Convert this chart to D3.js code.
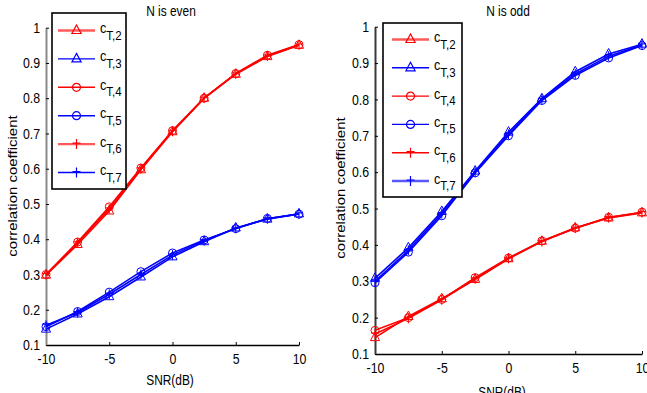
<!DOCTYPE html>
<html>
<head>
<meta charset="utf-8">
<script src="https://cdn.jsdelivr.net/npm/d3@7"></script>
<style>
  body { margin: 0; background: #fff; }
  svg { display: block; font-family: "Liberation Sans", Arial, sans-serif; }
</style>
</head>
<body>
<div id="chart"></div>
<script>
// x values (dB)
var snr = [-10, -7.5, -5, -2.5, 0, 2.5, 5, 7.5, 10];
var xTicks = [-10, -5, 0, 5, 10];
var yTicks = [0.1, 0.2, 0.3, 0.4, 0.5, 0.6, 0.7, 0.8, 0.9, 1];
var seriesNames = ["T,2", "T,3", "T,4", "T,5", "T,6", "T,7"];

// N is even
var evenT2 = [0.298, 0.385, 0.480, 0.597, 0.705, 0.800, 0.868, 0.918, 0.950];
var evenT3 = [0.145, 0.188, 0.237, 0.293, 0.350, 0.393, 0.432, 0.457, 0.472];
var evenT4 = [0.300, 0.392, 0.492, 0.602, 0.708, 0.800, 0.870, 0.922, 0.952];
var evenT5 = [0.152, 0.195, 0.250, 0.308, 0.361, 0.398, 0.430, 0.459, 0.471];
var evenT6 = [0.300, 0.390, 0.486, 0.600, 0.706, 0.800, 0.869, 0.920, 0.951];
var evenT7 = [0.156, 0.192, 0.244, 0.300, 0.355, 0.396, 0.431, 0.458, 0.472];

// N is odd
var oddT2 = [0.145, 0.203, 0.252, 0.305, 0.362, 0.410, 0.447, 0.474, 0.488];
var oddT3 = [0.308, 0.392, 0.492, 0.603, 0.710, 0.802, 0.876, 0.925, 0.952];
var oddT4 = [0.165, 0.200, 0.250, 0.310, 0.364, 0.411, 0.446, 0.476, 0.490];
var oddT5 = [0.296, 0.380, 0.480, 0.598, 0.700, 0.797, 0.866, 0.914, 0.948];
var oddT6 = [0.155, 0.198, 0.249, 0.307, 0.363, 0.409, 0.446, 0.475, 0.489];
var oddT7 = [0.300, 0.385, 0.486, 0.600, 0.704, 0.800, 0.870, 0.919, 0.950];

var styles = [
  {color: "#ff0000", marker: "tri"},
  {color: "#0000ff", marker: "tri"},
  {color: "#ff0000", marker: "circ"},
  {color: "#0000ff", marker: "circ"},
  {color: "#ff0000", marker: "plus"},
  {color: "#0000ff", marker: "plus"}
];

var SX = 0.85; // text is drawn a bit narrow in the source

var svg = d3.select("#chart").append("svg")
  .attr("width", 647).attr("height", 393);

function markerPath(m) {
  if (m === "tri") return "M0,-5.5L4.6,3L-4.6,3Z";
  if (m === "circ") return "M4,0A4,4 0 1,1 -4,0A4,4 0 1,1 4,0Z";
  return "M-4,-1H4M0,-5V5";
}

// plain hyphen for negatives, like the source
var fmt = function(d) { return String(d); };

function drawPanel(p) {
  var g = svg.append("g");
  var x = d3.scaleLinear().domain([-10, 10]).range(p.xr);
  var y = d3.scaleLinear().domain([0.1, 1]).range(p.yr);

  // axes
  var xa = g.append("g").attr("transform", "translate(0," + p.yr[0] + ")")
    .call(d3.axisBottom(x).tickValues(xTicks).tickFormat(fmt)
      .tickSizeInner(-3).tickSizeOuter(0).tickPadding(p.xPad));
  xa.select(".domain").attr("stroke", "#000").attr("stroke-width", 1.6);
  xa.selectAll("text").attr("font-size", 14.5).attr("fill", "#000")
    .attr("font-family", "Liberation Sans, Arial, sans-serif")
    .attr("transform", "scale(" + SX + ",1)");

  var ya = g.append("g").attr("transform", "translate(" + p.xr[0] + ",0)")
    .call(d3.axisLeft(y).tickValues(yTicks).tickFormat(fmt)
      .tickSizeInner(-3).tickSizeOuter(0).tickPadding(7));
  ya.select(".domain").attr("stroke", p.yAxisColor).attr("stroke-width", 2);
  ya.selectAll("text").attr("font-size", 14.5).attr("fill", "#000")
    .attr("font-family", "Liberation Sans, Arial, sans-serif")
    .attr("transform", "scale(" + SX + ",1)");

  // title and labels
  g.append("text").attr("transform", "translate(" + p.titleX + ",16) scale(" + SX + ",1)")
    .attr("text-anchor", "middle").attr("font-size", 14).text(p.title);
  g.append("text").attr("transform", "translate(" + p.xlabX + "," + p.xlabY + ") scale(" + SX + ",1)")
    .attr("text-anchor", "middle").attr("font-size", 14).text("SNR(dB)");
  g.append("text").attr("transform", "translate(" + p.ylabX + "," + p.ylabY + ") rotate(-90) scale(1," + SX + ")")
    .attr("text-anchor", "middle").attr("font-size", 15).text("correlation coefficient");

  // series
  var line = d3.line().x(function(d, i) { return x(snr[i]); }).y(function(d) { return y(d); });
  p.series.forEach(function(vals, k) {
    var s = styles[k];
    g.append("path").datum(vals).attr("d", line)
      .attr("fill", "none").attr("stroke", s.color).attr("stroke-width", 1.6);
    g.selectAll(null).data(vals).enter().append("path")
      .attr("transform", function(d, i) { return "translate(" + x(snr[i]) + "," + y(d) + ")"; })
      .attr("d", markerPath(s.marker))
      .attr("fill", "none").attr("stroke", s.color).attr("stroke-width", 1);
  });

  // legend
  var lg = g.append("g");
  lg.append("rect").attr("x", p.leg.x).attr("y", p.leg.y)
    .attr("width", p.leg.w).attr("height", p.leg.h)
    .attr("fill", "#fff").attr("stroke", "#000").attr("stroke-width", 1.6);
  seriesNames.forEach(function(name, k) {
    var s = styles[k];
    var ly = p.leg.y0 + k * p.leg.dy;
    var light = p.leg.light.indexOf(k) >= 0;
    lg.append("line").attr("x1", p.leg.lx).attr("x2", p.leg.lx + 37)
      .attr("y1", ly).attr("y2", ly).attr("stroke", s.color)
      .attr("stroke-width", light ? 2.4 : 1.4).attr("stroke-opacity", light ? 0.65 : 1);
    lg.append("path").attr("transform", "translate(" + (p.leg.lx + 18.5) + "," + ly + ")")
      .attr("d", markerPath(s.marker)).attr("fill", "none").attr("stroke", s.color).attr("stroke-width", 1.2);
    var t = lg.append("text").attr("transform", "translate(" + (p.leg.lx + 42) + "," + (ly + 2.5) + ") scale(" + SX + ",1)")
      .attr("font-size", 15);
    t.append("tspan").text("c");
    t.append("tspan").attr("dy", 6.5).attr("font-size", 13.5).text(name);
  });
}

drawPanel({
  xr: [46, 299], yr: [345, 27.7], xPad: 9, yAxisColor: "#8a8a8a",
  title: "N is even", titleX: 171,
  xlabX: 170, xlabY: 385, ylabX: 17, ylabY: 186,
  series: [evenT2, evenT3, evenT4, evenT5, evenT6, evenT7],
  leg: {x: 52, y: 13, w: 74, h: 176, lx: 58, y0: 30.5, dy: 28.4, light: [0, 4]}
});

drawPanel({
  xr: [375, 642], yr: [354, 26.7], xPad: 9, yAxisColor: "#3a3a3a",
  title: "N is odd", titleX: 508,
  xlabX: 502, xlabY: 397, ylabX: 345, ylabY: 188,
  series: [oddT2, oddT3, oddT4, oddT5, oddT6, oddT7],
  leg: {x: 383, y: 23, w: 79, h: 174, lx: 392, y0: 39.5, dy: 28.3, light: [0, 5]}
});
</script>
</body>
</html>
